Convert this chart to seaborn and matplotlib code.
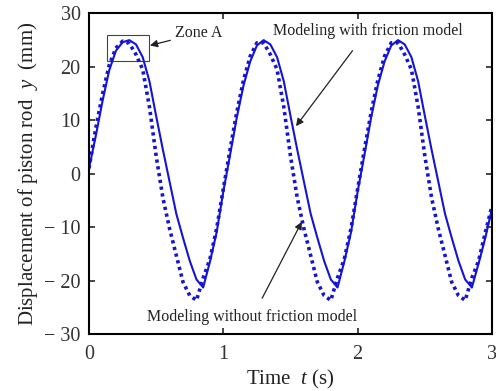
import matplotlib
matplotlib.use("Agg")
import matplotlib.pyplot as plt
import seaborn as sns
import pandas as pd
from matplotlib.patches import Rectangle

# ---- data ----
time_s = [0.00, 0.05, 0.10, 0.15, 0.20, 0.25, 0.30, 0.35, 0.40, 0.45,
          0.50, 0.55, 0.60, 0.65, 0.70, 0.75, 0.80, 0.85, 0.90, 0.95,
          1.00, 1.05, 1.10, 1.15, 1.20, 1.25, 1.30, 1.35, 1.40, 1.45,
          1.50, 1.55, 1.60, 1.65, 1.70, 1.75, 1.80, 1.85, 1.90, 1.95,
          2.00, 2.05, 2.10, 2.15, 2.20, 2.25, 2.30, 2.35, 2.40, 2.45,
          2.50, 2.55, 2.60, 2.65, 2.70, 2.75, 2.80, 2.85, 2.90, 2.95,
          3.00]

with_friction = [1.0, 7.0, 13.5, 19.3, 23.0, 24.6, 25.0, 24.2, 21.8, 17.3,
                 10.8, 4.5, -1.5, -7.5, -12.0, -16.3, -19.8, -21.3, -16.5, -11.0,
                 -3.3, 3.5, 10.5, 16.5, 21.0, 24.0, 25.0, 24.2, 21.8, 17.3,
                 10.8, 4.5, -1.5, -7.5, -12.0, -16.3, -19.8, -21.3, -16.5, -11.0,
                 -3.3, 3.5, 10.5, 16.5, 21.0, 24.0, 25.0, 24.2, 21.8, 17.3,
                 10.8, 4.5, -1.5, -7.5, -12.0, -16.3, -19.8, -21.3, -16.8, -12.0,
                 -6.5]

without_friction = [1.0, 8.5, 14.8, 20.3, 23.5, 24.8, 24.4, 22.3, 19.5, 12.5,
                    3.3, -4.5, -10.3, -15.3, -20.3, -22.8, -23.7, -19.5, -16.0, -10.3,
                    -2.8, 4.5, 11.5, 17.5, 22.0, 24.5, 24.5, 22.3, 19.5, 12.5,
                    3.3, -4.5, -10.3, -15.3, -20.3, -22.8, -23.7, -19.5, -16.0, -10.3,
                    -2.8, 4.5, 11.5, 17.5, 22.0, 24.5, 24.5, 22.3, 19.5, 12.5,
                    3.3, -4.5, -10.3, -15.3, -20.3, -22.8, -23.7, -19.5, -16.3, -11.0,
                    -6.0]

x_ticks = [0, 1, 2, 3]
x_tick_labels = ["0", "1", "2", "3"]
y_ticks = [-30, -20, -10, 0, 10, 20, 30]
y_tick_labels = ["\u2212 30", "\u2212 20", "\u2212 10", "0", "10", "20", "30"]

# ---- style ----
sns.set_style("ticks")
plt.rcParams["font.family"] = ["Liberation Serif", "DejaVu Serif"]
plt.rcParams["mathtext.fontset"] = "custom"
plt.rcParams["mathtext.it"] = "Liberation Serif:italic"
plt.rcParams["mathtext.rm"] = "Liberation Serif"

fig = plt.figure(figsize=(4.96, 3.91), dpi=100)
ax = fig.add_axes([0.1794, 0.1458, 0.8126, 0.8199])

df = pd.DataFrame({"t": time_s, "with": with_friction, "without": without_friction})
blue = "#1414d2"
sns.lineplot(data=df, x="t", y="with", ax=ax, color=blue, lw=1.5)
sns.lineplot(data=df, x="t", y="without", ax=ax, color=blue, lw=2.6,
             linestyle=(0, (0.9, 1.0)))

ax.set_xlim(0, 3)
ax.set_ylim(-30, 30)
ax.set_xticks(x_ticks)
ax.set_xticklabels(x_tick_labels)
ax.set_yticks(y_ticks)
ax.set_yticklabels(y_tick_labels)
ax.tick_params(direction="in", length=4, width=1.2, top=True, right=True,
               labelsize=14.5, labelcolor="#333333")
ax.tick_params(axis="x", pad=8)
ax.tick_params(axis="y", pad=6)
for s in ax.spines.values():
    s.set_linewidth(1.5)
    s.set_color("black")

ax.set_xlabel(r"Time  $t$ (s)", fontsize=15, color="#222222", labelpad=3)
ax.set_ylabel(r"Displacement of piston rod  $y$  (mm)", fontsize=15,
              color="#222222", labelpad=3)

# Zone A box
ax.add_patch(Rectangle((0.136, 21.0), 0.309, 4.9, fill=False, lw=0.8,
                       edgecolor="#444444"))
ax.annotate("Zone A", xy=(0.454, 24.0), xytext=(0.64, 26.3), fontsize=11.5,
            color="#222222", va="center", ha="left",
            arrowprops=dict(arrowstyle="-|>", color="#222222", lw=0.9,
                            mutation_scale=11, shrinkA=1, shrinkB=0))

ax.annotate("Modeling with friction model", xy=(1.541, 8.9), xytext=(2.074, 26.8),
            fontsize=11.5, color="#222222", ha="center", va="center",
            arrowprops=dict(arrowstyle="-|>", color="#222222", lw=0.9,
                            mutation_scale=11, shrinkA=8, shrinkB=0))

ax.annotate("Modeling without friction model", xy=(1.584, -9.0), xytext=(1.217, -26.8),
            fontsize=11.5, color="#222222", ha="center", va="center",
            arrowprops=dict(arrowstyle="-|>", color="#222222", lw=0.9,
                            mutation_scale=11, shrinkA=6, shrinkB=0))

fig.savefig("out.png", dpi=100)
